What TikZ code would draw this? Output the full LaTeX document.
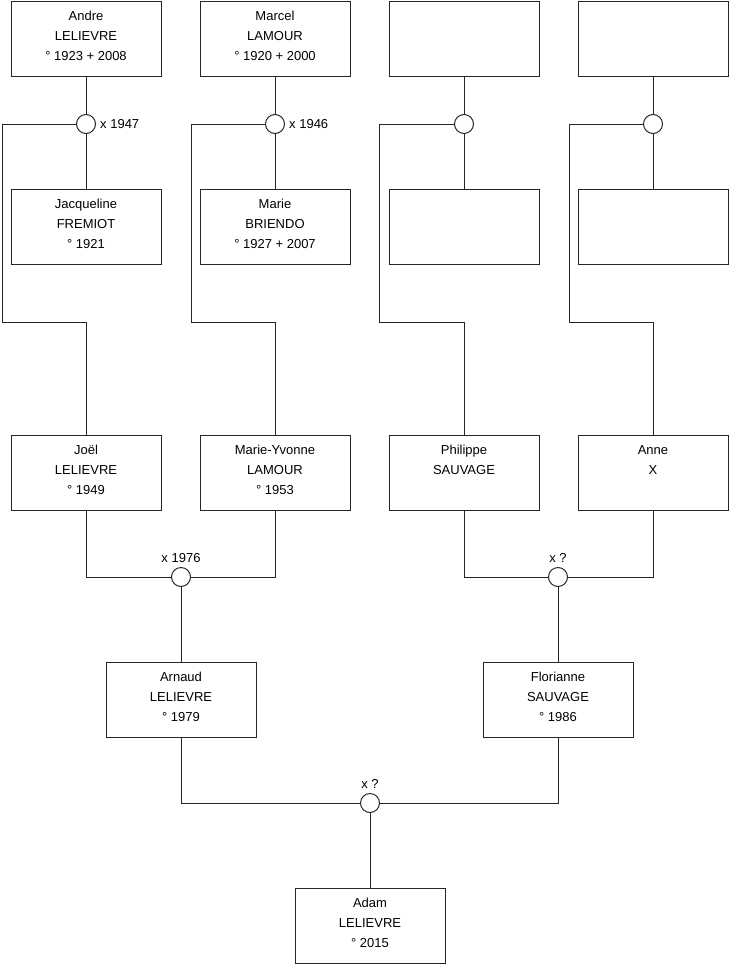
\documentclass[tikz,border=0pt]{standalone}
\usepackage{fontspec}
\setmainfont{Liberation Sans}
\usetikzlibrary{positioning}

% three lines of a person card, top aligned
\newcommand{\fiche}[3]{\rule{0pt}{12pt}#1\\#2\\#3\rule[-9pt]{0pt}{0pt}}

\tikzset{
    person/.style={draw=black!85, line width=1pt, fill=white, minimum width=150pt, minimum height=75pt, inner sep=0pt, align=center, font=\fontsize{13}{20}\selectfont},
    union/.style={draw=black!85, line width=1pt, fill=white, circle, minimum size=19pt, inner sep=0pt},
    date/.style={font=\fontsize{13}{15}\selectfont, inner sep=4pt},
    link/.style={black!85, line width=1pt}
}

\begin{document}
\begin{tikzpicture}[x=1pt, y=-1pt]
    \path[use as bounding box, fill=white] (0,0) rectangle (740,975);

    % Great-grandparents (husbands)
    \node[person] (andre) at (86,38.5) {\fiche{Andre}{LELIEVRE}{° 1923 + 2008}};
    \node[person] (marcel) at (275,38.5) {\fiche{Marcel}{LAMOUR}{° 1920 + 2000}};
    \node[person] (sauvageA) at (464,38.5) {};
    \node[person] (xA) at (653,38.5) {};

    % Great-grandparents (wives)
    \node[person] (jacqueline) at (86,227) {\fiche{Jacqueline}{FREMIOT}{° 1921}};
    \node[person] (marie) at (275,227) {\fiche{Marie}{BRIENDO}{° 1927 + 2007}};
    \node[person] (sauvageB) at (464,227) {};
    \node[person] (xB) at (653,227) {};

    % Marriages
    \node[union] (u1) at (86,124) {};
    \node[union] (u2) at (275,124) {};
    \node[union] (u3) at (464,124) {};
    \node[union] (u4) at (653,124) {};
    \node[date, right=0pt of u1] (d1) {x 1947};
    \node[date, right=0pt of u2] (d2) {x 1946};

    % Grandparents
    \node[person] (joel) at (86,472.5) {\fiche{Joël}{LELIEVRE}{° 1949}};
    \node[person] (marieyvonne) at (275,472.5) {\fiche{Marie-Yvonne}{LAMOUR}{° 1953}};
    \node[person] (philippe) at (464,472.5) {\fiche{Philippe}{SAUVAGE}{}};
    \node[person] (anne) at (653,472.5) {\fiche{Anne}{X}{}};

    \node[union] (u5) at (181,577) {};
    \node[union] (u6) at (558,577) {};
    \node[date, above=0pt of u5] (d5) {x 1976};
    \node[date, above=0pt of u6] (d6) {x ?};

    % Parents
    \node[person] (arnaud) at (181,699.5) {\fiche{Arnaud}{LELIEVRE}{° 1979}};
    \node[person] (florianne) at (558,699.5) {\fiche{Florianne}{SAUVAGE}{° 1986}};

    \node[union] (u7) at (370,803) {};
    \node[date, above=0pt of u7] (d7) {x ?};

    % Child
    \node[person] (adam) at (370,925.5) {\fiche{Adam}{LELIEVRE}{° 2015}};

    % Links
    \foreach \u/\a/\b in {u1/andre/jacqueline, u2/marcel/marie, u3/sauvageA/sauvageB, u4/xA/xB} {
        \draw[link] (\a) -- (\u) -- (\b);
    }
    \foreach \u/\c/\x in {u1/joel/2, u2/marieyvonne/191, u3/philippe/379, u4/anne/569} {
        \draw[link] (\u.west) -| (\x,322) -| (\c.north);
    }
    \draw[link] (joel) |- (u5);
    \draw[link] (marieyvonne) |- (u5);
    \draw[link] (philippe) |- (u6);
    \draw[link] (anne) |- (u6);
    \draw[link] (u5) -- (arnaud);
    \draw[link] (u6) -- (florianne);
    \draw[link] (arnaud) |- (u7);
    \draw[link] (florianne) |- (u7);
    \draw[link] (u7) -- (adam);
\end{tikzpicture}
\end{document}
